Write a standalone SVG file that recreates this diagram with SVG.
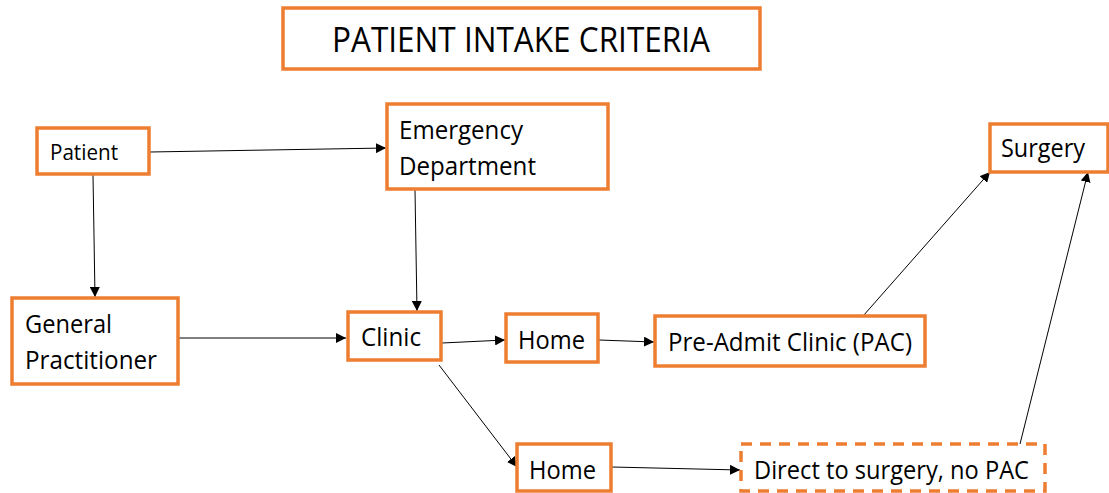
<svg xmlns="http://www.w3.org/2000/svg" width="1109" height="493" viewBox="0 0 1109 493">
<defs>
<style>
.box{fill:#fff;stroke:#ED7D31;stroke-width:3.5}
.dash{stroke-dasharray:11 8}
.t{font-family:"Open Sans","Liberation Sans",sans-serif;fill:#000}
.c{stroke:#000;stroke-width:1;fill:none;marker-end:url(#ah)}
</style>
<marker id="ah" viewBox="0 0 10 10" refX="10" refY="5" markerWidth="10" markerHeight="10" markerUnits="userSpaceOnUse" orient="auto">
<path d="M0,0 L10,5 L0,10 z" fill="#000"/>
</marker>
</defs>
<rect width="1109" height="493" fill="#fff"/>
<g id="title">
<rect class="box" x="283" y="8" width="477" height="61"/>
<text class="t" x="332" y="52" font-size="34" textLength="378" lengthAdjust="spacingAndGlyphs">PATIENT INTAKE CRITERIA</text>
</g>
<g id="connectors">
<line class="c" x1="150" y1="152" x2="386" y2="148"/>
<line class="c" x1="93" y1="175" x2="95" y2="297"/>
<line class="c" x1="415" y1="190" x2="417" y2="311"/>
<line class="c" x1="178" y1="338" x2="346" y2="338"/>
<line class="c" x1="442" y1="343" x2="505" y2="340"/>
<line class="c" x1="599" y1="340" x2="654" y2="342"/>
<line class="c" x1="439" y1="365" x2="517" y2="467"/>
<line class="c" x1="612" y1="467" x2="740" y2="470"/>
<line class="c" x1="863" y1="316" x2="990" y2="172"/>
<line class="c" x1="1020" y1="444" x2="1088" y2="172"/>
</g>
<g id="patient">
<rect class="box" x="37" y="128" width="112" height="46"/>
<text class="t" x="50" y="160" font-size="21" textLength="68" lengthAdjust="spacingAndGlyphs">Patient</text>
</g>
<g id="ed">
<rect class="box" x="387" y="104" width="221" height="85"/>
<text class="t" x="399" y="139" font-size="25" textLength="124" lengthAdjust="spacingAndGlyphs">Emergency</text>
<text class="t" x="399" y="175" font-size="25" textLength="137" lengthAdjust="spacingAndGlyphs">Department</text>
</g>
<g id="surgery">
<rect class="box" x="990" y="124" width="118" height="48"/>
<text class="t" x="1001" y="157" font-size="25" textLength="84" lengthAdjust="spacingAndGlyphs">Surgery</text>
</g>
<g id="gp">
<rect class="box" x="12" y="298" width="166" height="86"/>
<text class="t" x="25" y="333" font-size="25" textLength="87" lengthAdjust="spacingAndGlyphs">General</text>
<text class="t" x="25" y="369" font-size="25" textLength="132" lengthAdjust="spacingAndGlyphs">Practitioner</text>
</g>
<g id="clinic">
<rect class="box" x="348" y="312" width="93" height="48"/>
<text class="t" x="361" y="346" font-size="25" textLength="60" lengthAdjust="spacingAndGlyphs">Clinic</text>
</g>
<g id="home1">
<rect class="box" x="506" y="314" width="92" height="48"/>
<text class="t" x="518" y="349" font-size="25" textLength="67" lengthAdjust="spacingAndGlyphs">Home</text>
</g>
<g id="pac">
<rect class="box" x="655" y="316" width="270" height="50"/>
<text class="t" x="668" y="351" font-size="25" textLength="244" lengthAdjust="spacingAndGlyphs">Pre-Admit Clinic (PAC)</text>
</g>
<g id="home2">
<rect class="box" x="517" y="444" width="94" height="47"/>
<text class="t" x="529" y="479" font-size="25" textLength="67" lengthAdjust="spacingAndGlyphs">Home</text>
</g>
<g id="direct">
<rect class="box dash" x="741" y="444" width="304" height="47"/>
<text class="t" x="754" y="479" font-size="25" textLength="275" lengthAdjust="spacingAndGlyphs">Direct to surgery, no PAC</text>
</g>
</svg>
